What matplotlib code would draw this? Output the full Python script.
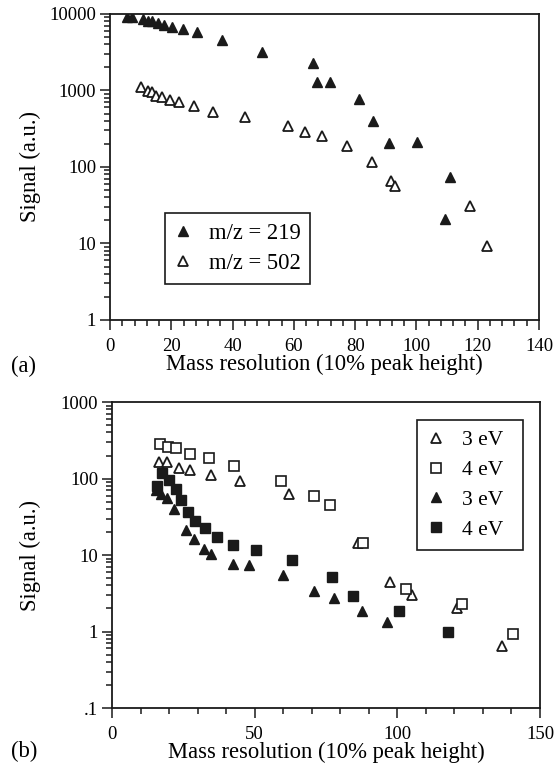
import matplotlib
matplotlib.use("Agg")
import matplotlib.pyplot as plt
from matplotlib.ticker import LogLocator, MultipleLocator, FixedLocator, FixedFormatter, NullFormatter

plt.rcParams["font.family"] = ["Liberation Serif", "DejaVu Serif"]

# panel (a): signal vs mass resolution for two ions
x219 = [5.5, 7.3, 10.7, 12.5, 13.8, 15.5, 17.6, 20.1, 23.8, 28.5, 36.6, 49.7, 66.3, 67.5,
        71.8, 81.1, 85.9, 90.9, 100.2, 109.4, 111.1]
y219 = [9100, 9100, 8500, 8100, 8000, 7550, 7250, 6800, 6350, 5750, 4550, 3200, 2300, 1300,
        1300, 770, 400, 205, 212, 20.7, 75]
x502 = [10.1, 12.4, 13.8, 15.0, 16.9, 19.5, 22.4, 27.4, 33.5, 44.1, 58.2, 63.6, 69.3, 77.4,
        85.4, 91.7, 93.1, 117.5, 122.9]
y502 = [1100, 990, 965, 855, 815, 750, 710, 630, 530, 445, 340, 285, 255, 190,
        115, 65, 57, 31, 9.3]

# panel (b): open / filled markers, 3 eV and 4 eV
xo3 = [16.4, 19.3, 23.4, 27.4, 34.8, 44.9, 62.2, 86.2, 97.6, 105.1, 121.0, 136.8]
yo3 = [165, 165, 139, 131, 110, 93, 62, 14.2, 4.5, 3.0, 2.0, 0.65]
xo4 = [16.8, 19.5, 22.6, 27.4, 34.0, 42.9, 59.1, 70.9, 76.5, 87.9, 103.2, 122.5, 140.5]
yo4 = [279, 259, 247, 208, 186, 148, 93, 60, 45, 14.2, 3.64, 2.29, 0.93]
xf3 = [15.5, 17.1, 19.3, 21.8, 25.9, 28.6, 32.1, 34.6, 42.5, 47.9, 60.0, 70.9, 77.7, 87.7, 96.4]
yf3 = [70, 62, 55, 40, 21, 16.3, 12.1, 10.4, 7.7, 7.3, 5.4, 3.4, 2.74, 1.88, 1.32]
xf4 = [15.9, 17.4, 20.1, 22.6, 24.1, 26.7, 29.2, 32.6, 36.7, 42.5, 50.4, 63.2, 77.1, 84.6,
       100.5, 117.8]
yf4 = [79, 118, 97, 74, 53, 37, 28, 22.5, 17, 13.4, 11.5, 8.5, 5.1, 2.9, 1.83, 1.0]

yticks_a = [1, 10, 100, 1000, 10000]
yticklabels_a = ["1", "10", "100", "1000", "10000"]
yticks_b = [0.1, 1, 10, 100, 1000]
yticklabels_b = [".1", "1", "10", "100", "1000"]

XLABEL = "Mass resolution (10% peak height)"
YLABEL = "Signal (a.u.)"
TICK_FS = 13.5
LABEL_FS = 16.3
K = "#1a1a1a"


def style_axes(ax, yticks, ylabels, xmax, xmajor, xminor, ylab_x):
    ax.set_yscale("log")
    ax.set_ylim(yticks[0], yticks[-1])
    ax.set_xlim(0, xmax)
    ax.yaxis.set_major_locator(FixedLocator(yticks))
    ax.yaxis.set_major_formatter(FixedFormatter(ylabels))
    ax.yaxis.set_minor_locator(LogLocator(base=10, subs=range(2, 10), numticks=20))
    ax.yaxis.set_minor_formatter(NullFormatter())
    ax.xaxis.set_major_locator(MultipleLocator(xmajor))
    ax.xaxis.set_minor_locator(MultipleLocator(xminor))
    ax.tick_params(which="both", direction="out", top=False, right=False,
                   labelsize=TICK_FS, width=1.1, color=K)
    ax.tick_params(which="major", length=7)
    ax.tick_params(which="minor", length=4)
    ax.tick_params(axis="x", which="major", pad=6)
    ax.tick_params(axis="y", which="major", pad=3)
    for s in ax.spines.values():
        s.set_linewidth(1.3)
        s.set_color(K)
    ax.set_xlabel(XLABEL, fontsize=LABEL_FS)
    ax.set_ylabel(YLABEL, fontsize=LABEL_FS)
    ax.xaxis.set_label_coords(0.5, -0.112)
    ax.yaxis.set_label_coords(ylab_x, 0.5)


def frame_legend(leg):
    leg.get_frame().set_edgecolor(K)
    leg.get_frame().set_linewidth(1.2)


fig = plt.figure(figsize=(5.57, 7.69), dpi=100)
ax1 = fig.add_axes([0.1975, 0.5839, 0.7702, 0.3979])
ax2 = fig.add_axes([0.2011, 0.0793, 0.7684, 0.3979])

ax1.plot(x219, y219, ls="none", marker="^", ms=7.5, color=K, label="m/z = 219")
ax1.plot(x502, y502, ls="none", marker="^", ms=6.5, mfc="white", mec=K, mew=1.3,
         label="m/z = 502")
style_axes(ax1, yticks_a, yticklabels_a, 140, 20, 4, -0.161)
leg1 = ax1.legend(loc="upper left", bbox_to_anchor=(0.128, 0.349), borderaxespad=0,
                  fontsize=LABEL_FS, numpoints=1, handlelength=0.8, handletextpad=0.73,
                  labelspacing=0.42, borderpad=0.42, fancybox=False, framealpha=1)
frame_legend(leg1)

ax2.plot(xo3, yo3, ls="none", marker="^", ms=6.5, mfc="white", mec=K, mew=1.3, label="3 eV")
ax2.plot(xo4, yo4, ls="none", marker="s", ms=6.5, mfc="white", mec=K, mew=1.2, label="4 eV")
ax2.plot(xf3, yf3, ls="none", marker="^", ms=7.5, color=K, label="3 eV")
ax2.plot(xf4, yf4, ls="none", marker="s", ms=7, color=K, label="4 eV")
style_axes(ax2, yticks_b, yticklabels_b, 150, 50, 10, -0.166)
leg2 = ax2.legend(loc="upper left", bbox_to_anchor=(0.7126, 0.5, 0.2477, 0.441),
                  mode="expand", borderaxespad=0,
                  fontsize=15.5, numpoints=1, handlelength=0.8, handletextpad=0.81,
                  labelspacing=0.45, borderpad=0.48, fancybox=False, framealpha=1)
frame_legend(leg2)

fig.text(11 / 557, 1 - 366 / 769, "(a)", fontsize=LABEL_FS, va="center", ha="left")
fig.text(11 / 557, 1 - 751 / 769, "(b)", fontsize=LABEL_FS, va="center", ha="left")

fig.savefig("out.png", dpi=100)
